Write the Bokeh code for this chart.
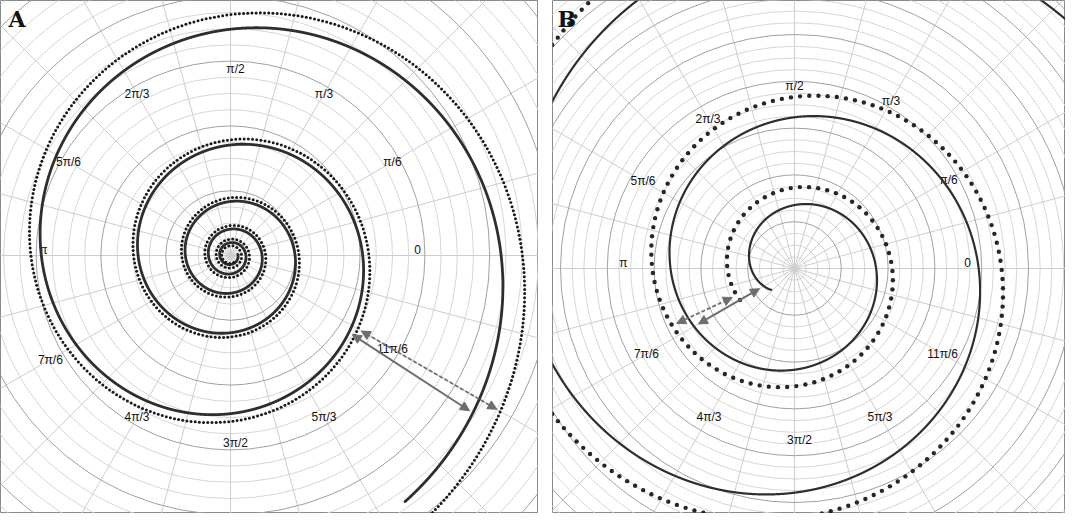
import numpy as np
from bokeh.plotting import figure
from bokeh.models import Arrow, NormalHead, Label, Range1d, Row
from bokeh.embed import file_html
from bokeh.resources import INLINE
from bokeh.core.properties import value

# ---------------- data ----------------
angle_tick_labels = ["0", "π/6", "π/3", "π/2", "2π/3", "5π/6",
                     "π", "7π/6", "4π/3", "3π/2", "5π/3", "11π/6"]
angle_tick_deg = [0, 30, 60, 90, 120, 150, 180, 210, 240, 270, 300, 330]

# Panel A: solid logarithmic spiral r = r0 * exp(b * phi), phi measured clockwise from 0
A_solid_r0 = 64.6
A_solid_b = 0.114
A_solid_phi = (-19.0, 13.52)
# dotted spiral: solid radius + offset + k * exp(c * phi)
A_dots_offset = 3.5
A_dots_k = 0.41
A_dots_c = 0.30
A_dots_phi = (-24.0, 13.65)

# Panel B: solid r = a*exp(b*psi) - c*exp(-d*psi); dotted r = r0*exp(b*psi)
B_solid_a = 51.7
B_solid_b = 0.125
B_solid_c = 20.0
B_solid_d = 0.55
B_solid_start_deg = 222.5
B_solid_psi_end = 17.0
B_dots_r0 = 63.0
B_dots_b = 0.1196
B_dots_start_deg = 210.0
B_dots_psi_end = 16.0

# ---------------- style ----------------
INK = "#2e2e2e"
ARROW = "#6e6e6e"
LIGHT = "#d6d6d6"
DARK = "#a0a0a0"
SPOKE = "#cdcdcd"
FONT = "Liberation Sans"


def make_fig(xr, yr, w, h):
    p = figure(width=w, height=h, x_range=Range1d(*xr), y_range=Range1d(*yr),
               output_backend="svg", toolbar_location=None, min_border=0,
               x_axis_type=None, y_axis_type=None)
    p.outline_line_color = "#8a8a8a"
    p.outline_line_width = 1
    p.background_fill_color = "white"
    p.border_fill_color = "white"
    return p


def draw_grid(p, spacing, nrings, dark_every):
    radii = spacing * np.arange(1, nrings + 1)
    idx = np.arange(1, nrings + 1)
    light = radii[idx % dark_every != 0]
    dark = radii[idx % dark_every == 0]
    p.circle(x=[0] * len(light), y=[0] * len(light), radius=list(light),
             fill_color=None, line_color=LIGHT, line_width=1)
    ang = np.radians(np.arange(0, 360, 15))
    R = 700
    p.segment(x0=[0] * len(ang), y0=[0] * len(ang), x1=list(R * np.cos(ang)),
              y1=list(R * np.sin(ang)), line_color=SPOKE, line_width=1)
    p.circle(x=[0] * len(dark), y=[0] * len(dark), radius=list(dark),
             fill_color=None, line_color=DARK, line_width=1)


def draw_labels(p, base_r, r_over, offsets):
    xs, ys = [], []
    for lab, deg in zip(angle_tick_labels, angle_tick_deg):
        r = r_over.get(lab, base_r)
        dx, dy = offsets.get(lab, (0, 0))
        t = np.radians(deg)
        xs.append(r * np.cos(t) + dx)
        ys.append(r * np.sin(t) + dy)
    p.text(x=xs, y=ys, text=angle_tick_labels, text_font=value(FONT),
           text_font_size="12px", text_align="center", text_baseline="middle",
           text_color="#111111")


def resample(x, y, step):
    d = np.hypot(np.diff(x), np.diff(y))
    s = np.concatenate([[0.0], np.cumsum(d)])
    t = np.arange(0.0, s[-1], step)
    return np.interp(t, s, x), np.interp(t, s, y)


def add_arrow(p, theta_deg, r_in, r_out, dashed):
    t = np.radians(theta_deg)
    kw = dict(line_color=ARROW, line_width=2 if not dashed else 1.8)
    if dashed:
        kw["line_dash"] = "4 2"
    p.add_layout(Arrow(
        x_start=r_in * np.cos(t), y_start=r_in * np.sin(t),
        x_end=r_out * np.cos(t), y_end=r_out * np.sin(t),
        start=NormalHead(size=9, fill_color=ARROW, line_color=ARROW, line_width=1),
        end=NormalHead(size=9, fill_color=ARROW, line_color=ARROW, line_width=1),
        **kw))


def panel_letter(p, x, y, txt):
    p.add_layout(Label(x=x, y=y, text=txt, text_font="DejaVu Serif",
                       text_font_style="bold", text_font_size="22px",
                       text_align="left", text_baseline="top",
                       text_color="#111111"))


# ---------------- panel A ----------------
pA = make_fig((-230, 308), (-258, 255), 538, 513)
draw_grid(pA, 16.2, 27, 4)
draw_labels(pA, 187, {"7π/6": 208},
            {"0": (0, 6), "π": (0, 6), "π/2": (5, 0), "3π/2": (5, 0)})


def rA_solid(phi):
    return A_solid_r0 * np.exp(A_solid_b * phi)


def rA_dots(phi):
    return rA_solid(phi) + A_dots_offset + A_dots_k * np.exp(A_dots_c * phi)


phi = np.linspace(A_solid_phi[0], A_solid_phi[1], 40000)
r = rA_solid(phi)
pA.line(r * np.cos(phi), -r * np.sin(phi), line_color=INK, line_width=2.8,
        line_join="round", line_cap="round")

phi = np.linspace(A_dots_phi[0], A_dots_phi[1], 40000)
r = rA_dots(phi)
dx, dy = resample(r * np.cos(phi), -r * np.sin(phi), 4.2)
pA.scatter(dx, dy, marker="circle", size=3.0, fill_color="#1a1a1a", line_color=None)

inset = 4
t0 = np.radians(33.0)
add_arrow(pA, -33.0, rA_solid(t0 + 2 * np.pi) + inset, rA_solid(t0 + 4 * np.pi) - inset, False)
t0 = np.radians(30.0)
add_arrow(pA, -30.0, rA_dots(t0 + 2 * np.pi) + inset, rA_dots(t0 + 4 * np.pi) - inset, True)
panel_letter(pA, -222, 250, "A")

# ---------------- panel B ----------------
pB = make_fig((-242, 271), (-245, 268), 513, 513)
draw_grid(pB, 11.7, 36, 4)
draw_labels(pB, 171, {"π/2": 183, "π/3": 193, "π/6": 178, "5π/6": 175, "2π/3": 173, "0": 173},
            {"0": (0, 6), "π": (0, 6), "3π/2": (5, 0)})


def rB_solid(psi):
    return B_solid_a * np.exp(B_solid_b * psi) - B_solid_c * np.exp(-B_solid_d * psi)


def rB_dots(psi):
    return B_dots_r0 * np.exp(B_dots_b * psi)


psi = np.linspace(0, B_solid_psi_end, 30000)
r = rB_solid(psi)
th = np.radians(B_solid_start_deg) - psi
pB.line(r * np.cos(th), r * np.sin(th), line_color=INK, line_width=2.2,
        line_join="round", line_cap="round")

psi = np.linspace(0, B_dots_psi_end, 30000)
r = rB_dots(psi)
th = np.radians(B_dots_start_deg) - psi
dx, dy = resample(r * np.cos(th), r * np.sin(th), 9.2)
pB.scatter(dx, dy, marker="circle", size=4.4, fill_color="#262626", line_color=None)

inset = 5
p0 = np.radians(B_solid_start_deg - 210.0)
add_arrow(pB, 210.0, rB_solid(p0) + inset, rB_solid(p0 + 2 * np.pi) - inset, False)
p0 = np.radians(B_dots_start_deg - 205.0)
add_arrow(pB, 205.0, rB_dots(p0) + inset, rB_dots(p0 + 2 * np.pi) - inset, True)
panel_letter(pB, -237, 263, "B")

layout = Row(children=[pA, pB], spacing=14)
open("out.html", "w").write(file_html(layout, INLINE))
